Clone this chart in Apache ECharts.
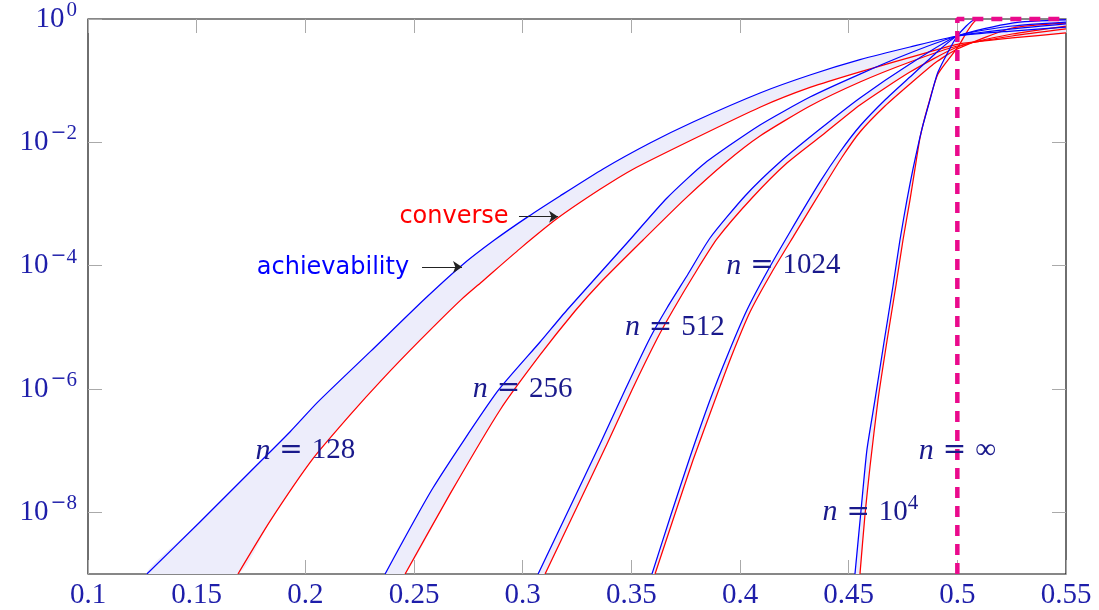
<!DOCTYPE html>
<html><head><meta charset="utf-8">
<script src="https://cdn.jsdelivr.net/npm/echarts@6/dist/echarts.min.js"></script>
<style>html,body{margin:0;padding:0;background:#fff}#c{width:1099px;height:610px}</style>
</head><body><div id="c"></div><script>
// ---- data (x = rate-like parameter, y = probability, log scale) ----
const yTickValues = [1e-8, 1e-6, 1e-4, 1e-2, 1];

const ach128 = [[0.1271,1e-9],[0.1515,6.98e-9],[0.1745,4.51e-8],[0.1929,2.01e-7],[0.2058,6.17e-7],[0.2300,4.07e-6],[0.2549,2.88e-5],[0.2718,1.0e-4],[0.2870,2.60e-4],[0.3025,6.24e-4],[0.3172,1.35e-3],[0.3370,3.70e-3],[0.3586,9.75e-3],[0.3784,0.0214],[0.4092,0.0632],[0.4322,0.1236],[0.4552,0.2188],[0.4782,0.3516],[0.5,0.530],[0.5252,0.638],[0.55,0.741]];
const conv128 = [[0.1690,1e-9],[0.1837,7.13e-9],[0.2035,7.41e-8],[0.2206,3.80e-7],[0.2353,1.42e-6],[0.2528,6.19e-6],[0.2716,2.79e-5],[0.2818,5.71e-5],[0.2988,1.89e-4],[0.3163,5.96e-4],[0.3356,1.73e-3],[0.3508,3.67e-3],[0.3784,0.01122],[0.4092,0.0371],[0.4322,0.0776],[0.4552,0.1393],[0.4860,0.285],[0.5,0.389],[0.5252,0.492],[0.55,0.593]];
const ach256 = [[0.2367,1e-9],[0.2587,2.48e-8],[0.2882,8.95e-7],[0.3080,5.78e-6],[0.3204,1.91e-5],[0.3480,2.33e-4],[0.3664,1.25e-3],[0.3839,4.62e-3],[0.4092,0.0191],[0.4322,0.0543],[0.4552,0.128],[0.4782,0.281],[0.5,0.530],[0.5252,0.689],[0.55,0.830]];
const conv256 = [[0.2459,1e-9],[0.2666,1.99e-8],[0.2896,4.57e-7],[0.3080,3.56e-6],[0.3241,1.84e-5],[0.3356,5.24e-5],[0.3554,2.61e-4],[0.3747,1.21e-3],[0.3931,4.62e-3],[0.4092,0.01267],[0.4322,0.0388],[0.4552,0.0951],[0.4782,0.201],[0.5,0.365],[0.5252,0.530],[0.55,0.689]];
const ach512 = [[0.3071,1e-9],[0.3218,1.22e-8],[0.3356,1.28e-7],[0.3471,9.64e-7],[0.3586,6.72e-6],[0.3664,2.06e-5],[0.3761,7.33e-5],[0.3862,2.81e-4],[0.4023,1.35e-3],[0.4184,4.80e-3],[0.4368,0.0164],[0.4552,0.0524],[0.4782,0.186],[0.5,0.530],[0.5252,0.770],[0.55,0.894]];
const conv512 = [[0.3103,1e-9],[0.3250,1.22e-8],[0.3388,1.28e-7],[0.3503,9.64e-7],[0.3618,6.47e-6],[0.3692,1.91e-5],[0.3788,7.06e-5],[0.3894,2.71e-4],[0.4055,1.25e-3],[0.4216,4.62e-3],[0.4391,0.01417],[0.4552,0.0403],[0.4782,0.138],[0.5,0.352],[0.5252,0.571],[0.55,0.770]];
const ach1024 = [[0.3595,1e-9],[0.3682,9.06e-9],[0.3770,7.91e-8],[0.3862,6.64e-7],[0.3945,3.70e-6],[0.4032,1.91e-5],[0.4124,7.90e-5],[0.4230,3.52e-4],[0.4368,2.28e-3],[0.4460,6.97e-3],[0.4552,0.0184],[0.4667,0.0486],[0.4782,0.1147],[0.4897,0.271],[0.5,0.530],[0.5252,0.861],[0.55,0.964]];
const conv1024 = [[0.3609,1e-9],[0.3696,8.41e-9],[0.3784,7.07e-8],[0.3885,6.64e-7],[0.3963,3.56e-6],[0.4046,1.77e-5],[0.4147,7.90e-5],[0.4253,3.27e-4],[0.4387,1.96e-3],[0.4470,5.78e-3],[0.4552,0.0147],[0.4667,0.0388],[0.4782,0.0883],[0.4897,0.1935],[0.5,0.326],[0.5252,0.715],[0.55,0.861]];
const ach1e4 = [[0.4529,1e-9],[0.4557,1.09e-8],[0.4584,1.03e-7],[0.4621,6.64e-7],[0.4662,5.57e-6],[0.4704,4.68e-5],[0.4736,2.61e-4],[0.4768,1.16e-3],[0.4796,3.70e-3],[0.4837,0.0164],[0.4874,0.0486],[0.4911,0.138],[0.5,0.530],[0.5086,1],[0.55,1]];
const conv1e4 = [[0.4552,1e-9],[0.4575,9.06e-9],[0.4598,5.44e-8],[0.4635,6.64e-7],[0.4677,6.23e-6],[0.4718,4.86e-5],[0.4750,2.61e-4],[0.4782,1.16e-3],[0.4805,3.70e-3],[0.4828,0.01175],[0.4865,0.0388],[0.4911,0.128],[0.5,0.339],[0.5095,1],[0.55,1]];
const limitInf = [[0.5,1e-9],[0.5,1],[0.55,1]];

// annotations (anchors in data coordinates)
const nLabelText = ['128','256','512','1024','\u221e','10^4'];
const nLabelAnchor = [[0.2,1e-7],[0.3,1e-6],[0.37,1e-5],[0.42,1e-4],[0.5,1e-7],[0.46,1e-8]];
const legendText = ['achievability','converse'];
const legendAnchor = [[0.2127,9.3e-5],[0.2684,6.2e-4]];
const arrows = [[[0.2537,9.5e-5],[0.2721,9.5e-5]],[[0.2983,6.24e-4],[0.3163,6.24e-4]]];

const bands = [[ach128,conv128],[ach256,conv256],[ach512,conv512],[ach1024,conv1024],[ach1e4,conv1e4]];

// ---- styles ----
const TICK = '#1e1eaa', NCOL = '#1a1a8c', SERIF = 'Liberation Serif', SERIF2 = 'DejaVu Serif', SANS = 'DejaVu Sans';
const BLUE = '#0000ff', RED = '#ff0000', FILL = '#ededfb', PINK = '#ea0a8c';
const SMOOTH = 0.2;

function supLabel(v){
  const e = Math.round(Math.log10(v));
  return e < 0 ? '{b|10}{m|\u2212}{s|' + (-e) + '}' : '{b|10}{s0|' + e + '}';
}
const yRich = {
  b:{fontFamily:SERIF,fontSize:29,color:TICK,lineHeight:38},
  m:{fontFamily:SERIF2,fontSize:19,color:TICK,lineHeight:20,verticalAlign:'top',padding:[0,0,0,2]},
  s:{fontFamily:SERIF,fontSize:21,color:TICK,lineHeight:20,verticalAlign:'top'},
  s0:{fontFamily:SERIF,fontSize:21,color:TICK,lineHeight:20,verticalAlign:'top',padding:[0,0,0,2]}
};
function xAx(pos, showLabel){
  return {type:'value',min:0.1,max:0.55,interval:0.05,position:pos,
    axisLine:{show:false},splitLine:{show:false},
    axisTick:{show:true,inside:true,length:14,lineStyle:{color:'#aaaaaa',width:1}},
    axisLabel:{show:showLabel,color:TICK,fontFamily:SERIF,fontSize:29,margin:7}};
}
function yAx(pos, showLabel){
  return {type:'log',logBase:10,min:1e-9,max:1,position:pos,
    axisLine:{show:false},splitLine:{show:false},minorTick:{show:false},
    axisTick:{show:true,inside:true,length:14,customValues:yTickValues,lineStyle:{color:'#aaaaaa',width:1}},
    axisLabel:{show:showLabel,customValues:yTickValues,margin:11,formatter:supLabel,rich:yRich}};
}

function bandSeries(kind, z){
  return {
    type:'custom', clip:true, silent:true, z:z,
    data: bands.map(b => b[0][0]),
    renderItem: function(params, api){
      const b = bands[params.dataIndex];
      if (kind === 'fill') {
        const pts = b[0].map(p => api.coord(p)).concat(b[1].slice().reverse().map(p => api.coord(p)));
        return {type:'polygon', shape:{points:pts, smooth:SMOOTH}, style:{fill:FILL}};
      }
      const src = kind === 'ach' ? b[0] : b[1];
      return {type:'polyline', shape:{points:src.map(p => api.coord(p)), smooth:SMOOTH},
        style:{fill:null, stroke: kind === 'ach' ? BLUE : RED, lineWidth:1.25}};
    }
  };
}

const series = [bandSeries('fill',1), bandSeries('conv',3), bandSeries('ach',4)];
series.push({type:'line',data:limitInf,showSymbol:false,silent:true,z:5,clip:false,
  lineStyle:{color:PINK,width:4.5,type:[11,8]}});
series.push({type:'line',data:[],silent:true,z:6,
  markLine:{silent:true,symbol:['none','arrow'],symbolSize:9,animation:false,
    itemStyle:{color:'#222'},
    lineStyle:{color:'#222',width:1,type:'solid'},label:{show:false},
    data: arrows.map(a => [{coord:a[0]},{coord:a[1]}])}});
series.push({type:'scatter',silent:true,z:7,symbolSize:1,itemStyle:{color:'rgba(0,0,0,0)',opacity:1},
  data: nLabelText.map((t,i) => {
    const m = t.match(/^(\d+)\^(\d+)$/);
    const f = m ? '{i|n}{e| = }{r|' + m[1] + '}{s|' + m[2] + '}' : '{i|n}{e| = }{r|' + t + '}';
    return {value:nLabelAnchor[i], label:{show:true,position:'inside',formatter:f,opacity:1,
      rich:{i:{fontFamily:SERIF,fontStyle:'italic',fontSize:30,color:NCOL,lineHeight:38},
            e:{fontFamily:SERIF2,fontSize:28,color:NCOL,lineHeight:38},
            r:{fontFamily:SERIF,fontSize:29,color:NCOL,lineHeight:38},
            s:{fontFamily:SERIF,fontSize:21,color:NCOL,lineHeight:20,verticalAlign:'top'}}}};
  })
});
series.push({type:'scatter',silent:true,z:7,symbolSize:1,itemStyle:{color:'rgba(0,0,0,0)',opacity:1},
  data: legendText.map((t,i) => ({value:legendAnchor[i], label:{show:true,position:'inside',opacity:1,
    formatter:t, fontFamily:SANS, fontSize:24, color: i===0 ? BLUE : RED}}))
});

const chart = echarts.init(document.getElementById('c'), null, {renderer:'canvas'});
chart.setOption({
  animation:false,
  backgroundColor:'#fff',
  grid:{left:88,right:33,top:19,bottom:36,show:true,borderColor:'#111',borderWidth:1.2,backgroundColor:'transparent'},
  xAxis:[xAx('bottom',true), xAx('top',false)],
  yAxis:[yAx('left',true), yAx('right',false)],
  series: series
});
</script></body></html>
